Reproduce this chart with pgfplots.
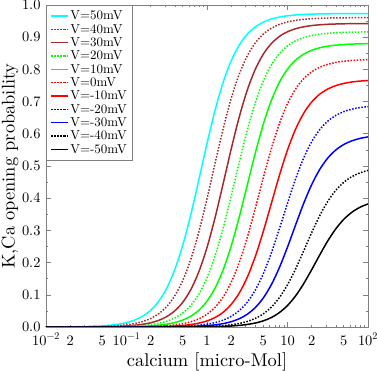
\documentclass[border=0pt]{standalone}
\usepackage{fontspec}
\setmainfont{lmroman10-regular.otf}
\usepackage{pgfplots}
\usepackage{pgfplotstable}
\pgfplotsset{compat=1.18}
\definecolor{gbrown}{RGB}{165,42,42}
\definecolor{ggreen}{RGB}{0,255,0}
\definecolor{gcyan}{RGB}{0,255,255}
\definecolor{axgray}{RGB}{128,128,128}
\newcommand\lf{\fontsize{13}{13}\selectfont}
% columns: calcium, V=50,40,30,20,10,0,-10,-20,-30,-40,-50 mV
\pgfplotstableread{
c        A      B      C      D      E      F      G      H      I      J      K
0.01     0.0001 0.0001 0.0000 0.0000 0.0000 0.0000 0.0000 0.0000 0.0000 0.0000 0.0000
0.012589 0.0002 0.0001 0.0001 0.0000 0.0000 0.0000 0.0000 0.0000 0.0000 0.0000 0.0000
0.015849 0.0003 0.0002 0.0001 0.0000 0.0000 0.0000 0.0000 0.0000 0.0000 0.0000 0.0000
0.019953 0.0005 0.0003 0.0001 0.0001 0.0000 0.0000 0.0000 0.0000 0.0000 0.0000 0.0000
0.025119 0.0009 0.0004 0.0002 0.0001 0.0001 0.0000 0.0000 0.0000 0.0000 0.0000 0.0000
0.031623 0.0014 0.0007 0.0003 0.0002 0.0001 0.0000 0.0000 0.0000 0.0000 0.0000 0.0000
0.039811 0.0022 0.0011 0.0005 0.0003 0.0001 0.0001 0.0000 0.0000 0.0000 0.0000 0.0000
0.050119 0.0034 0.0017 0.0008 0.0005 0.0002 0.0001 0.0000 0.0000 0.0000 0.0000 0.0000
0.063096 0.0055 0.0027 0.0013 0.0007 0.0004 0.0002 0.0001 0.0000 0.0000 0.0000 0.0000
0.079433 0.0086 0.0043 0.0021 0.0012 0.0006 0.0003 0.0001 0.0001 0.0000 0.0000 0.0000
0.1      0.0135 0.0067 0.0033 0.0018 0.0009 0.0004 0.0002 0.0001 0.0000 0.0000 0.0000
0.12589  0.0213 0.0107 0.0053 0.0029 0.0014 0.0007 0.0003 0.0001 0.0001 0.0000 0.0000
0.15849  0.0334 0.0168 0.0083 0.0046 0.0022 0.0010 0.0005 0.0002 0.0001 0.0000 0.0000
0.19953  0.0518 0.0263 0.0131 0.0072 0.0035 0.0017 0.0008 0.0003 0.0002 0.0001 0.0000
0.25119  0.0796 0.0411 0.0206 0.0114 0.0055 0.0027 0.0012 0.0005 0.0003 0.0001 0.0000
0.31623  0.1205 0.0635 0.0323 0.0180 0.0087 0.0042 0.0019 0.0009 0.0004 0.0002 0.0001
0.39811  0.1780 0.0969 0.0502 0.0281 0.0137 0.0066 0.0031 0.0014 0.0007 0.0003 0.0001
0.50119  0.2549 0.1451 0.0771 0.0437 0.0216 0.0103 0.0048 0.0022 0.0011 0.0004 0.0002
0.63096  0.3503 0.2113 0.1167 0.0675 0.0337 0.0163 0.0076 0.0035 0.0017 0.0007 0.0003
0.79433  0.4588 0.2967 0.1724 0.1025 0.0523 0.0255 0.0120 0.0055 0.0027 0.0011 0.0005
1        0.5699 0.3983 0.2469 0.1525 0.0801 0.0397 0.0188 0.0086 0.0042 0.0018 0.0008
1.2589   0.6728 0.5080 0.3393 0.2203 0.1205 0.0612 0.0294 0.0135 0.0066 0.0028 0.0013
1.5849   0.7594 0.6150 0.4443 0.3061 0.1769 0.0930 0.0456 0.0212 0.0105 0.0044 0.0020
1.9953   0.8264 0.7092 0.5520 0.4059 0.2508 0.1384 0.0699 0.0329 0.0164 0.0070 0.0032
2.5119   0.8752 0.7851 0.6516 0.5109 0.3408 0.1999 0.1051 0.0508 0.0256 0.0110 0.0050
3.1623   0.9091 0.8419 0.7354 0.6107 0.4404 0.2778 0.1543 0.0771 0.0396 0.0172 0.0079
3.9811   0.9317 0.8822 0.8003 0.6965 0.5400 0.3683 0.2188 0.1147 0.0604 0.0266 0.0123
5.0119   0.9467 0.9097 0.8476 0.7643 0.6300 0.4637 0.2973 0.1658 0.0904 0.0409 0.0191
6.3096   0.9564 0.9278 0.8804 0.8143 0.7039 0.5542 0.3843 0.2304 0.1317 0.0619 0.0295
7.9433   0.9626 0.9398 0.9024 0.8493 0.7603 0.6321 0.4712 0.3055 0.1849 0.0915 0.0449
10       0.9666 0.9474 0.9169 0.8731 0.8007 0.6936 0.5497 0.3845 0.2482 0.1310 0.0667
12.589   0.9690 0.9523 0.9262 0.8887 0.8285 0.7390 0.6142 0.4596 0.3165 0.1800 0.0964
15.849   0.9707 0.9554 0.9322 0.8988 0.8471 0.7708 0.6634 0.5242 0.3832 0.2357 0.1340
19.953   0.9716 0.9574 0.9361 0.9054 0.8592 0.7923 0.6986 0.5753 0.4419 0.2928 0.1777
25.119   0.9723 0.9587 0.9385 0.9096 0.8671 0.8065 0.7229 0.6129 0.4892 0.3456 0.2236
31.623   0.9727 0.9595 0.9401 0.9122 0.8721 0.8157 0.7391 0.6392 0.5246 0.3901 0.2673
39.811   0.9730 0.9599 0.9410 0.9139 0.8753 0.8217 0.7497 0.6571 0.5497 0.4245 0.3049
50.119   0.9731 0.9603 0.9417 0.9150 0.8773 0.8254 0.7565 0.6688 0.5669 0.4496 0.3346
63.096   0.9732 0.9605 0.9420 0.9156 0.8786 0.8278 0.7609 0.6765 0.5782 0.4670 0.3564
79.433   0.9733 0.9606 0.9423 0.9161 0.8794 0.8293 0.7637 0.6814 0.5856 0.4786 0.3718
100      0.9733 0.9607 0.9424 0.9163 0.8799 0.8303 0.7654 0.6845 0.5904 0.4863 0.3822
}\datatable
\begin{document}
\begin{tikzpicture}
\begin{axis}[
  scale only axis,
  width=322bp, height=322bp,
  xmode=log,
  xmin=0.01, xmax=100, ymin=0, ymax=1,
  /pgf/number format/assume math mode=true,
  axis line style={axgray, line width=0.9pt},
  every tick/.style={axgray, line width=0.6pt},
  major tick length=5bp, minor tick length=2.5bp,
  tick align=inside,
  xtick={0.01,0.1,1,10,100},
  xticklabels={10\textsuperscript{−2},10\textsuperscript{−1},1,10,10\textsuperscript{2}},
  minor xtick={0.02,0.03,0.04,0.05,0.06,0.07,0.08,0.09,0.2,0.3,0.4,0.5,0.6,0.7,0.8,0.9,2,3,4,5,6,7,8,9,20,30,40,50,60,70,80,90},
  extra x ticks={0.02,0.05,0.2,0.5,2,5,20,50},
  extra x tick labels={2,5,2,5,2,5,2,5},
  extra x tick style={major tick length=2.5bp,
    tick label style={font=\fontsize{9}{9}\selectfont}},
  x tick label style={font=\fontsize{14.5}{14.5}\selectfont, anchor=base, yshift=-18bp},
  ytick={0,0.1,0.2,0.3,0.4,0.5,0.6,0.7,0.8,0.9,1.0},
  minor y tick num=1,
  y tick label style={font=\fontsize{14.5}{14.5}\selectfont, xshift=-2bp, /pgf/number format/fixed, /pgf/number format/fixed zerofill, /pgf/number format/precision=1},
  xlabel={calcium [micro-Mol]},
  xlabel style={font=\fontsize{18.5}{18.5}\selectfont, at={(axis description cs:0.5,0)}, anchor=base, yshift=-39bp, inner sep=0pt},
  ylabel={K,Ca opening probability},
  ylabel style={font=\fontsize{18.5}{18.5}\selectfont, at={(axis description cs:-0.0978,0.5)}, anchor=base, inner sep=0pt},
  legend style={at={(axis description cs:0,1)}, anchor=north west, draw=axgray, line width=0.8pt, fill=white,
    font=\lf, inner xsep=4bp, inner ysep=4bp, row sep=0pt,
    nodes={inner sep=1.5pt},
    cells={anchor=west}},
  legend image post style={line width=1.5pt},
  every axis plot/.append style={line width=1.5pt},
]
\addplot[gcyan, no markers, smooth] table[x=c,y=A]{\datatable};
\addlegendentry{\lf V=50mV}
\addplot[gbrown, no markers, smooth, dash pattern=on 1.5pt off 1.6pt] table[x=c,y=B]{\datatable};
\addlegendentry{\lf V=40mV}
\addplot[gbrown, no markers, smooth] table[x=c,y=C]{\datatable};
\addlegendentry{\lf V=30mV}
\addplot[ggreen, no markers, smooth, dash pattern=on 1.5pt off 1.6pt] table[x=c,y=D]{\datatable};
\addlegendentry{\lf V=20mV}
\addplot[ggreen, no markers, smooth] table[x=c,y=E]{\datatable};
\addlegendentry{\lf V=10mV}
\addplot[red, no markers, smooth, dash pattern=on 1.5pt off 1.6pt] table[x=c,y=F]{\datatable};
\addlegendentry{\lf V=0mV}
\addplot[red, no markers, smooth] table[x=c,y=G]{\datatable};
\addlegendentry{\lf V=-10mV}
\addplot[blue, no markers, smooth, dash pattern=on 1.5pt off 1.6pt] table[x=c,y=H]{\datatable};
\addlegendentry{\lf V=-20mV}
\addplot[blue, no markers, smooth] table[x=c,y=I]{\datatable};
\addlegendentry{\lf V=-30mV}
\addplot[black, no markers, smooth, dash pattern=on 1.5pt off 1.6pt] table[x=c,y=J]{\datatable};
\addlegendentry{\lf V=-40mV}
\addplot[black, no markers, smooth] table[x=c,y=K]{\datatable};
\addlegendentry{\lf V=-50mV}
\coordinate (bl) at (rel axis cs:0,0);
\coordinate (tr) at (rel axis cs:1,1);
\end{axis}
\pgfresetboundingbox
\path[use as bounding box] ([xshift=-46bp,yshift=-44bp]bl) rectangle ([xshift=9bp,yshift=5bp]tr);
\end{tikzpicture}
\end{document}
